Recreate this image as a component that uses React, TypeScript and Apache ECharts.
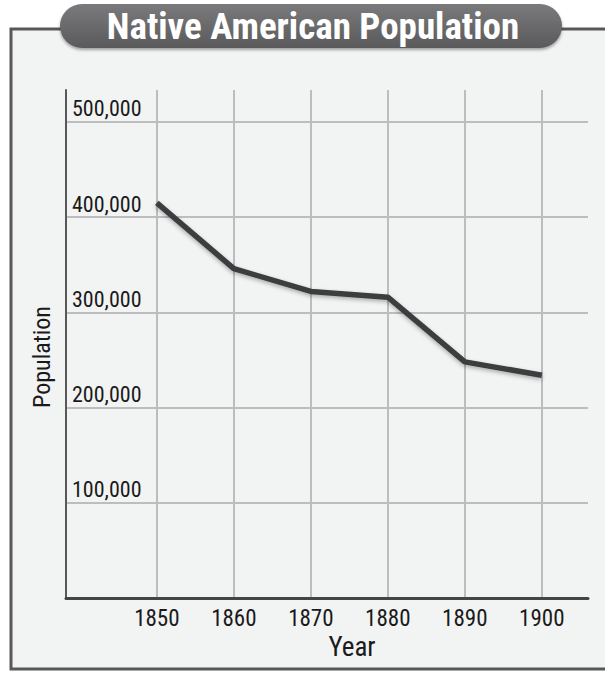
import React, { useEffect, useRef } from "react";
import * as echarts from "echarts";

const years = [1850, 1860, 1870, 1880, 1890, 1900];
const population = [415000, 346000, 322000, 316000, 248000, 234000];
const yTicks = [100000, 200000, 300000, 400000, 500000];
const yGridValues = [0, 100000, 200000, 300000, 400000, 500000];
const titleText = "Native American Population";
const xName = "Year";
const yName = "Population";

const FONT = "'Liberation Sans Narrow', 'Roboto Condensed', 'Liberation Sans', sans-serif";

export default function App() {
  const ref = useRef<HTMLDivElement>(null);
  useEffect(() => {
    if (!ref.current) return;
    const chart = echarts.init(ref.current, null, { renderer: "svg" });
    chart.setOption({
      animation: false,
      backgroundColor: "#ffffff",
      graphic: [
        {
          type: "rect",
          z: -10,
          silent: true,
          shape: { x: 11, y: 29, width: 640, height: 640 },
          style: { fill: "#f2f3f3", stroke: "#58585a", lineWidth: 3 },
        },
        {
          type: "rect",
          z: 100,
          shape: { x: 60, y: 4, width: 502, height: 44, r: 22 },
          style: {
            fill: new echarts.graphic.LinearGradient(0, 0, 0, 1, [
              { offset: 0, color: "#7a7a7c" },
              { offset: 1, color: "#5a5a5c" },
            ]),
            shadowColor: "rgba(0,0,0,0.35)",
            shadowBlur: 3,
            shadowOffsetY: 2,
          },
        },
        {
          type: "text",
          z: 101,
          style: {
            x: 313,
            y: 26,
            text: titleText,
            fill: "#ffffff",
            font: `bold 37px ${FONT}`,
            align: "center",
            verticalAlign: "middle",
          },
        },
        {
          type: "text",
          z: 50,
          rotation: Math.PI / 2,
          x: 42,
          y: 357,
          style: {
            text: yName,
            fill: "#1a1a1a",
            font: `24px ${FONT}`,
            align: "center",
            verticalAlign: "middle",
          },
        },
        {
          type: "text",
          z: 50,
          style: {
            x: 352,
            y: 647,
            text: xName,
            fill: "#1a1a1a",
            font: `27px ${FONT}`,
            align: "center",
            verticalAlign: "middle",
          },
        },
      ],
      grid: { left: 66, top: 90, width: 522, height: 508, containLabel: false },
      xAxis: {
        type: "value",
        min: 1838.2,
        max: 1906,
        axisLine: { show: true, lineStyle: { color: "#444446", width: 3 } },
        axisTick: { show: false, customValues: years },
        axisLabel: {
          customValues: years,
          color: "#1a1a1a",
          fontFamily: FONT,
          fontSize: 23,
          margin: 9,
          formatter: (v: number) => String(v),
        },
        splitLine: { show: true, lineStyle: { color: "#bdbdbf", width: 2 } },
      },
      yAxis: {
        type: "value",
        min: 0,
        max: 533600,
        axisLine: { show: true, lineStyle: { color: "#58585a", width: 2 } },
        axisTick: { show: false, customValues: yGridValues },
        axisLabel: {
          customValues: yTicks,
          inside: true,
          margin: 6,
          color: "#1a1a1a",
          fontFamily: FONT,
          fontSize: 22,
          verticalAlign: "bottom",
          align: "left",
          padding: [0, 0, 2, 0],
          formatter: (v: number) => v.toLocaleString("en-US"),
        },
        splitLine: { show: true, lineStyle: { color: "#bdbdbf", width: 2 } },
      },
      series: [
        {
          type: "line",
          data: years.map((y, i) => [y, population[i]]),
          symbol: "none",
          lineStyle: {
            color: "#3e3e40",
            width: 5.5,
            shadowColor: "rgba(0,0,0,0.3)",
            shadowBlur: 4,
            shadowOffsetY: 2,
          },
        },
      ],
    });
    return () => chart.dispose();
  }, []);
  return (
    <div
      ref={ref}
      style={{ position: "fixed", left: 0, top: 0, width: 605, height: 673 }}
    />
  );
}
